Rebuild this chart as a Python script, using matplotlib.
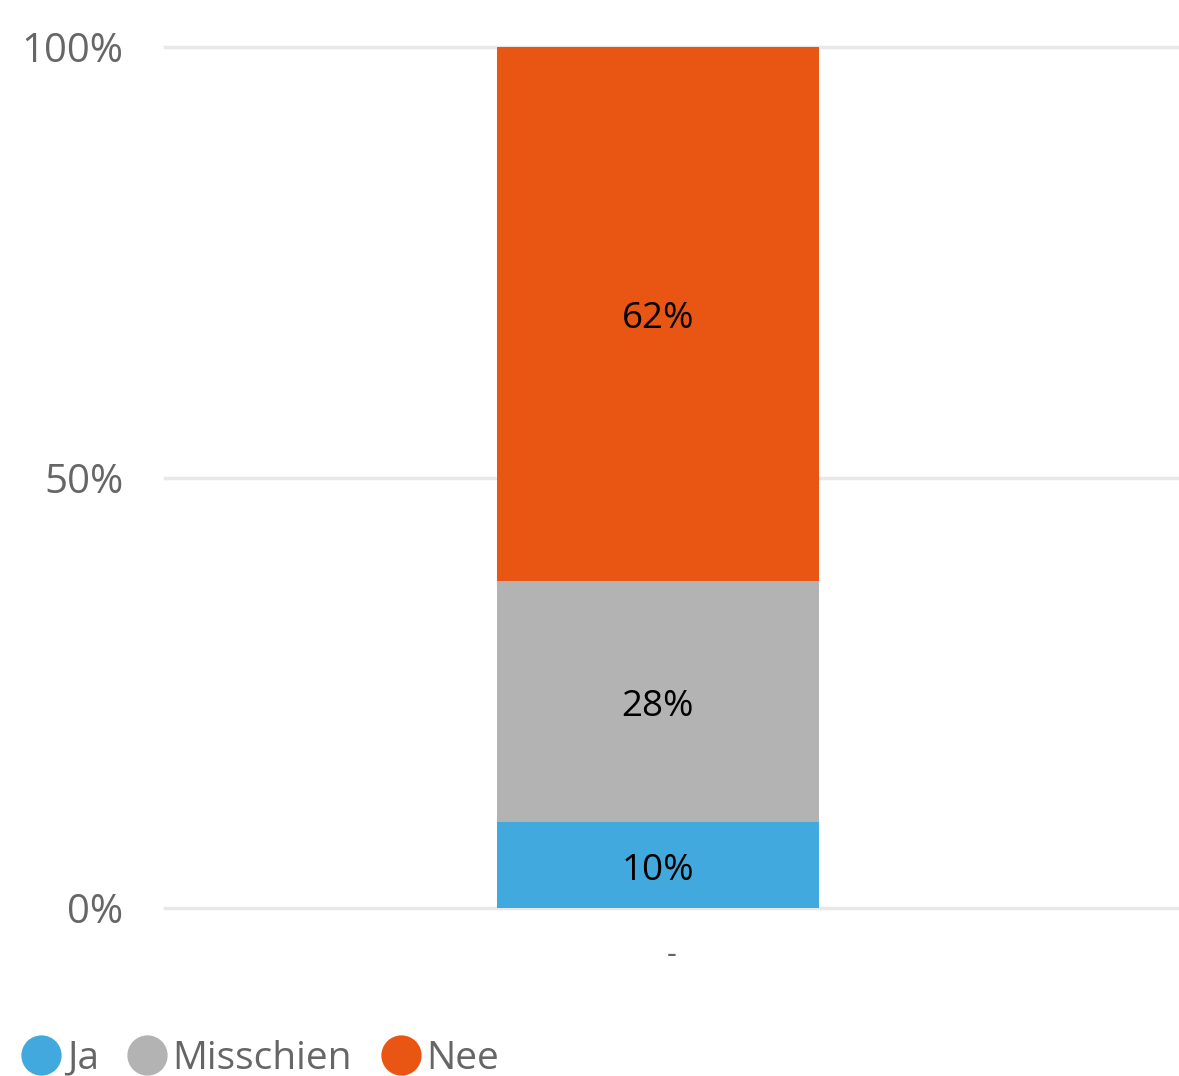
import matplotlib.pyplot as plt
from matplotlib.lines import Line2D

plt.rcParams['font.family'] = ['Open Sans', 'DejaVu Sans']

categories = ['-']
series = ['Ja', 'Misschien', 'Nee']
values = [10, 28, 62]
colors = ['#41A9DE', '#B3B3B3', '#E95513']
yticks = [0, 50, 100]
ytick_labels = ['0%', '50%', '100%']

fig = plt.figure(figsize=(11.79, 10.76), dpi=100)
ax = fig.add_axes([165/1179, 168/1076, 1 - 165/1179, (908-47)/1076])

bottom = 0
for name, v, c in zip(series, values, colors):
    ax.bar(0, v, width=0.317, bottom=bottom, color=c, zorder=3)
    ax.annotate(f'{v}%', (0, bottom + v/2), xytext=(0, -4), textcoords='offset points',
                ha='center', va='center', fontsize=26.5, color='black', zorder=4)
    bottom += v

ax.set_xlim(-0.486, 0.514)
ax.set_ylim(0, 100)
ax.set_yticks(yticks)
ax.set_yticklabels(ytick_labels, fontsize=29, color='#666666')
ax.set_xticks([0.014])
ax.set_xticklabels(categories, fontsize=22, color='#666666')
ax.tick_params(length=0, pad=30)
ax.tick_params(axis='x', pad=23)
ax.grid(axis='y', color='#e8e8e8', lw=2.5, zorder=0)
for gl in ax.get_ygridlines():
    gl.set_clip_on(False)
ax.set_axisbelow(True)
for s in ax.spines.values():
    s.set_visible(False)

handles = [Line2D([], [], marker='o', ls='', markersize=29, markerfacecolor=c, markeredgewidth=0) for c in colors]
leg = fig.legend(handles, series, loc='lower left', bbox_to_anchor=(-0.011, -0.034), ncol=3, frameon=False,
                 fontsize=28, handletextpad=0.15, columnspacing=0.75, handlelength=1.0)
for t in leg.get_texts():
    t.set_color('#666666')

fig.savefig('out.png', dpi=100)
